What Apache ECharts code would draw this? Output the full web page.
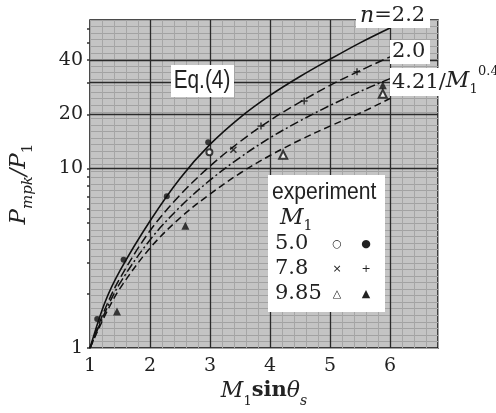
<!DOCTYPE html>
<html><head><meta charset="utf-8">
<script src="https://cdn.jsdelivr.net/npm/echarts@6/dist/echarts.min.js"></script>
<style>html,body{margin:0;padding:0;background:#fff}#c{width:496px;height:413px}</style>
</head><body><div id="c"></div>
<script>
// ---- data ----
const curveX    = [1, 1.25, 1.5, 2, 2.5, 3, 3.5, 4, 4.5, 5, 5.5, 6];
const curveN22  = [1, 1.8, 2.7, 5.1, 8.8, 13.6, 19.2, 25.5, 32.5, 40.5, 50, 60.5];
const curveN20  = [1, 1.65, 2.45, 4.5, 7.1, 10.3, 14.1, 18.5, 23.4, 29, 35, 41.8];
const curveM78  = [1, 1.58, 2.3, 4.0, 6.1, 8.6, 11.5, 14.8, 18.4, 22.4, 26.8, 31.6];
const curveM985 = [1, 1.52, 2.15, 3.6, 5.3, 7.2, 9.4, 11.8, 14.4, 17.2, 20.3, 24.5];

const expM50open   = [[2.99, 12.3]];
const expM50filled = [[1.12, 1.45], [1.56, 3.1], [2.28, 7.0], [2.97, 14.0]];
const expM78cross  = [[3.39, 12.7]];
const expM78plus   = [[3.85, 17.2], [4.57, 23.7], [5.45, 34.5]];
const expM985open  = [[4.22, 11.9], [5.88, 26]];
const expM985fill  = [[1.45, 1.6], [2.59, 4.8], [5.88, 29]];

const xTickValues = [1, 2, 3, 4, 5, 6];
const yLabelValues = [1, 10, 20, 40];
const yMinorValues = [1, 2, 3, 4, 5, 6, 7, 8, 9, 10, 20, 30, 40, 50, 60];
const yGridValues = [10, 20, 30, 40];
const xGridValues = [2, 3, 4, 5, 6];

const legendRows = [['5.0', '○', '●'], ['7.8', '×', '+'], ['9.85', '△', '▲']];

// ---- chart ----
const chart = echarts.init(document.getElementById('c'), null, {renderer: 'canvas'});
const serif = 'DejaVu Serif';
const pair = (xs, ys) => xs.map((x, i) => [x, ys[i]]);
const lineSeries = (name, ys, type, w) => ({
  name, type: 'line', data: pair(curveX, ys), smooth: 0.35, showSymbol: false,
  xAxisIndex: 0, yAxisIndex: 0, z: 5,
  lineStyle: {color: '#111', width: w || 1.5, type: type}
});
const scat = (name, data, symbol, size, style) => ({
  name, type: 'scatter', data, symbol, symbolSize: size, xAxisIndex: 0, yAxisIndex: 0, z: 6,
  itemStyle: style
});
const crossPath = 'path://M0,0L10,10M10,0L0,10';
const plusPath = 'path://M5,0L5,10M0,5L10,5';

chart.setOption({
  animation: false,
  backgroundColor: '#fff',
  grid: {left: 87, right: 58, top: 20, bottom: 59, show: true, backgroundColor: '#c4c4c4',
         borderColor: '#111', borderWidth: 1.5},
  xAxis: [{
    type: 'value', min: 1, max: 6.8, interval: 1,
    axisLine: {show: false}, axisTick: {show: false}, splitLine: {show: false},
    axisLabel: {customValues: xTickValues, fontFamily: serif, fontSize: 19, color: '#222', margin: 8},
    name: '{i|M}{sub|1}{b|sin}{i|θ}{subi|s}', nameLocation: 'middle', nameGap: 30,
    nameTextStyle: {color: '#222', rich: {
      i: {fontFamily: serif, fontStyle: 'italic', fontSize: 22, lineHeight: 28, verticalAlign: 'top'},
      b: {fontFamily: serif, fontWeight: 'bold', fontSize: 21, lineHeight: 28, verticalAlign: 'top'},
      sub: {fontFamily: serif, fontSize: 13, lineHeight: 22, verticalAlign: 'bottom'},
      subi: {fontFamily: serif, fontStyle: 'italic', fontSize: 14, lineHeight: 22, verticalAlign: 'bottom'}
    }}
  }, {
    type: 'value', min: 1, max: 6.8, interval: 0.2, position: 'top',
    axisLine: {show: false}, axisTick: {show: false}, axisLabel: {show: false},
    splitLine: {show: true, lineStyle: {color: '#a6a6a6', width: 1}}
  }],
  yAxis: [{
    type: 'log', logBase: 10, min: 1, max: 67,
    axisLine: {show: false}, splitLine: {show: false},
    axisTick: {show: true, customValues: yMinorValues, length: 3, lineStyle: {color: '#333', width: 1.5}},
    axisLabel: {customValues: yLabelValues, fontFamily: serif, fontSize: 19, color: '#222', margin: 7},
    name: '{i|P}{sub|mpk}{n|/}{i|P}{sub1|1}', nameLocation: 'middle', nameGap: 54, nameRotate: 90,
    nameTextStyle: {color: '#222', padding: [0, 0, 0, 0], rich: {
      i: {fontFamily: serif, fontStyle: 'italic', fontSize: 23, lineHeight: 28, verticalAlign: 'top'},
      n: {fontFamily: serif, fontStyle: 'italic', fontSize: 22, lineHeight: 28, verticalAlign: 'top'},
      sub: {fontFamily: serif, fontStyle: 'italic', fontSize: 15, lineHeight: 22, verticalAlign: 'bottom'},
      sub1: {fontFamily: serif, fontSize: 15, lineHeight: 22, verticalAlign: 'bottom'}
    }}
  }, {
    type: 'value', min: 0, max: 100, interval: 2, position: 'right',
    axisLine: {show: false}, axisTick: {show: false}, axisLabel: {show: false},
    splitLine: {show: true, lineStyle: {color: '#a2a2a2', width: 1}}
  }],
  series: [
    Object.assign(lineSeries('n=2.2', curveN22, 'solid', 1.6), {
      markLine: {silent: true, symbol: 'none', label: {show: false},
        lineStyle: {color: '#2a2a2a', width: 1.3, type: 'solid'},
        data: yGridValues.map(v => ({yAxis: v})).concat(xGridValues.map(v => ({xAxis: v})))}
    }),
    lineSeries('n=2.0', curveN20, [9, 4], 1.5),
    lineSeries('M1=7.8', curveM78, [9, 3, 2, 3], 1.5),
    lineSeries('M1=9.85', curveM985, [7, 4], 1.5),
    scat('5.0 open', expM50open, 'emptyCircle', 6, {color: '#111', borderWidth: 1.2}),
    scat('5.0 filled', expM50filled, 'circle', 6, {color: '#111'}),
    scat('7.8 x', expM78cross, crossPath, 6, {color: 'transparent', borderColor: '#111', borderWidth: 1.5}),
    scat('7.8 +', expM78plus, plusPath, 7, {color: 'transparent', borderColor: '#111', borderWidth: 1.5}),
    scat('9.85 open', expM985open, 'emptyTriangle', 8, {color: '#111', borderWidth: 1.2}),
    scat('9.85 filled', expM985fill, 'triangle', 8, {color: '#111'})
  ],
  graphic: [
    // Eq.(4) label
    {type: 'rect', shape: {x: 171, y: 65, width: 63, height: 32}, style: {fill: '#fff'}, z: 20},
    {type: 'text', x: 202, y: 81, scaleX: 0.8, z: 21,
      style: {text: 'Eq.(4)', font: '26px "Liberation Sans"', fill: '#222', align: 'center', verticalAlign: 'middle'}},
    // curve labels
    {type: 'rect', shape: {x: 356, y: 2, width: 74, height: 26}, style: {fill: '#fff'}, z: 20},
    {type: 'text', x: 360, y: 16, z: 21, style: {text: '{i|n}=2.2', fill: '#222', verticalAlign: 'middle',
      font: '21px "DejaVu Serif"', rich: {i: {fontFamily: serif, fontStyle: 'italic', fontSize: 22}}}},
    {type: 'rect', shape: {x: 390, y: 40, width: 40, height: 24}, style: {fill: '#fff'}, z: 20},
    {type: 'text', x: 392, y: 52, z: 21, style: {text: '2.0', fill: '#222', verticalAlign: 'middle', font: '21px "DejaVu Serif"'}},
    {type: 'rect', shape: {x: 390, y: 68, width: 106, height: 28}, style: {fill: '#fff'}, z: 20},
    {type: 'text', x: 392, y: 83, z: 21, style: {text: '4.21/{i|M}{s|1}', fill: '#222', verticalAlign: 'middle',
      font: '21px "DejaVu Serif"', rich: {
        i: {fontFamily: serif, fontStyle: 'italic', fontSize: 23, lineHeight: 26, verticalAlign: 'top'},
        s: {fontFamily: serif, fontSize: 13, lineHeight: 18, verticalAlign: 'bottom'}}}},
    {type: 'text', x: 478, y: 72, z: 21, style: {text: '0.4', fill: '#222', verticalAlign: 'middle', font: '13px "DejaVu Serif"'}},
    // experiment legend box
    {type: 'rect', shape: {x: 268, y: 175, width: 117, height: 137}, style: {fill: '#fff'}, z: 20},
    {type: 'text', x: 272, y: 192, scaleX: 0.88, z: 21,
      style: {text: 'experiment', font: '24px "Liberation Sans"', fill: '#222', verticalAlign: 'middle'}},
    {type: 'text', x: 280, y: 220, z: 21, style: {text: '{i|M}{s|1}', fill: '#222', verticalAlign: 'middle',
      rich: {i: {fontFamily: serif, fontStyle: 'italic', fontSize: 23, lineHeight: 26, verticalAlign: 'top'},
             s: {fontFamily: serif, fontSize: 14, lineHeight: 18, verticalAlign: 'bottom'}}}},
    ...legendRows.flatMap((r, k) => [
      {type: 'text', x: 275, y: 244 + k * 25, z: 21, style: {text: r[0], font: '21px "DejaVu Serif"', fill: '#222', verticalAlign: 'middle'}},
      {type: 'text', x: 337, y: 244 + k * 25, z: 21, style: {text: r[1], font: '11px "DejaVu Sans"', fill: '#222', align: 'center', verticalAlign: 'middle'}},
      {type: 'text', x: 366, y: 244 + k * 25, z: 21, style: {text: r[2], font: '11px "DejaVu Sans"', fill: '#222', align: 'center', verticalAlign: 'middle'}}
    ])
  ]
});
</script>
</body></html>
